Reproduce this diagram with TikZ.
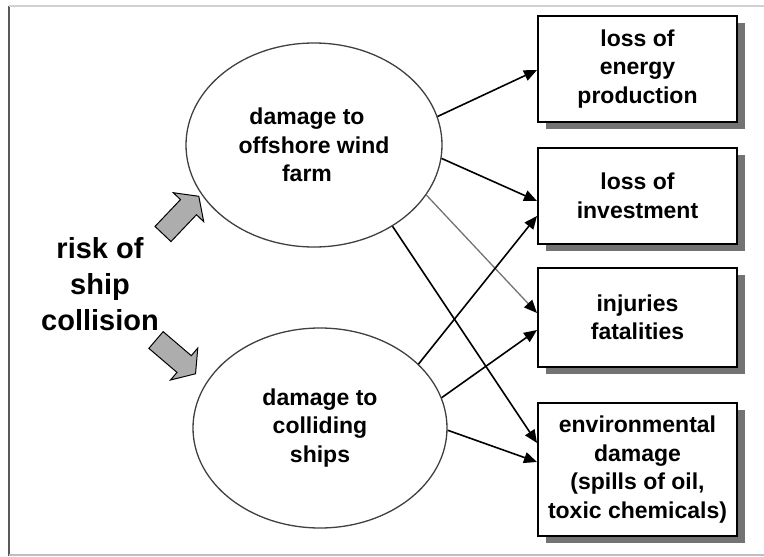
\documentclass[tikz,border=0pt]{standalone}
\usepackage{fontspec}
\setmainfont{Liberation Sans}
\usetikzlibrary{shapes.geometric,shadows,arrows.meta}
\begin{document}
\begin{tikzpicture}[x=1pt,y=-1pt,
  boxtext/.style={font=\bfseries\fontsize{23}{28.5}\selectfont, align=center},
  bigtext/.style={font=\bfseries\fontsize{29}{36}\selectfont, align=center},
  box/.style={draw=black, line width=2pt, fill=white, minimum width=199pt, inner sep=0pt,
    drop shadow={shadow xshift=8pt, shadow yshift=-7pt, fill=black!55, opacity=1}},
  ell/.style={ellipse, draw=black!75, line width=1.3pt, fill=white, inner sep=0pt},
  conn/.style={line width=1.6pt, -{Triangle[length=13pt,width=11pt,color=black]}},
  blockarrow/.style={fill=black!32, draw=black, line width=1pt, line join=miter}
]
\useasboundingbox (0,0) rectangle (764,557);
% frame
\draw[black!65, line width=2pt] (9,6) -- (9,556);
\draw[black!18, line width=1.5pt] (9,6) -- (764,6);
\draw[black!25, line width=1.5pt] (9,555) -- (764,555);

% ellipses
\node[ell, boxtext, minimum width=256pt, minimum height=204pt] (e1) at (314,145)
  {damage to\hspace*{14pt}\\offshore wind\hspace*{14pt}\\farm\hspace*{14pt}};
\node[ell, boxtext, minimum width=254pt, minimum height=200pt] (e2) at (320,428)
  {damage to\\colliding\\ships};

% boxes
\node[box, boxtext, minimum height=106pt] (b1) at (637.5,69) {loss of\\energy\\production};
\node[box, boxtext, minimum height=96pt] (b2) at (637.5,196) {loss of\\investment};
\node[box, boxtext, minimum height=99pt] (b3) at (637.5,317.5) {injuries\\fatalities};
\node[box, boxtext, minimum height=133pt] (b4) at (637.5,469.5)
  {environmental\\damage\\(spills of oil,\\toxic chemicals)};

% label
\node[bigtext] (risk) at (100,284) {risk of\\ship\\collision};

% block arrows
\begin{scope}[shift={(163,234)}, rotate=46.5]
  \draw[blockarrow] (0,-11) -- (37,-11) -- (37,-21) -- (52,0) -- (37,21) -- (37,11) -- (0,11) -- cycle;
\end{scope}
\begin{scope}[shift={(156,340)}, rotate=-40.5]
  \draw[blockarrow] (0,-11) -- (37,-11) -- (37,-21) -- (52,0) -- (37,21) -- (37,11) -- (0,11) -- cycle;
\end{scope}

% connectors
\draw[conn] (e1.13.5) -- ([yshift=-1pt]b1.west);
\draw[conn] (e1.-6.8) -- ([yshift=-5pt]b2.west);
\draw[conn, draw=black!55, line width=1.3pt] (e1.-24.7) -- ([yshift=4.5pt]b3.west);
\draw[conn] (e1.-46.5) -- ([yshift=26.5pt]b4.west);
\draw[conn] (e2.33) -- ([yshift=-20pt]b2.west);
\draw[conn] (e2.14.1) -- ([yshift=-12.5pt]b3.west);
\draw[conn] (e2.-1) -- ([yshift=7.5pt]b4.west);
\end{tikzpicture}
\end{document}
